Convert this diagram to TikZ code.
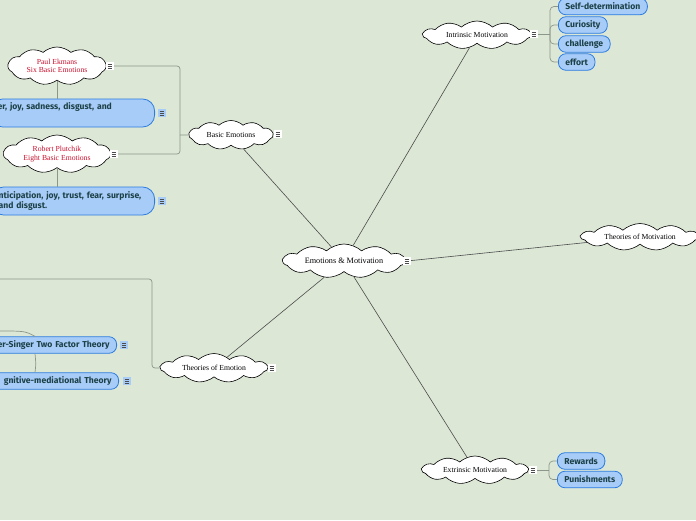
\documentclass[tikz,border=0pt]{standalone}
\usepackage{fontspec}
\setmainfont{Liberation Serif}
\newfontfamily\boxfont{Fira Sans}
\usetikzlibrary{shapes.symbols}
\definecolor{bg}{RGB}{220,231,214}
\definecolor{leaffill}{RGB}{168,204,248}
\definecolor{leafdraw}{RGB}{43,123,224}
\definecolor{leaftext}{RGB}{27,64,70}
\definecolor{redtext}{RGB}{200,16,46}
\definecolor{branchgray}{RGB}{140,150,138}

\begin{document}
\begin{tikzpicture}[x=1pt,y=-1pt,
  topic/.style={cloud, cloud puffs=11, cloud puff arc=85, cloud ignores aspect, draw=black, line width=0.6pt, fill=white,
    inner sep=0pt, align=center, font=\fontsize{7.7}{8.5}\selectfont},
  leaf/.style={rectangle, rounded corners=7.5pt, draw=leafdraw, line width=0.8pt, fill=leaffill, text=leaftext,
    inner xsep=7pt, inner ysep=0pt, minimum height=16.5pt, font=\boxfont\bfseries\fontsize{8.6}{10}\selectfont},
  note/.style={rectangle, fill=#1, minimum size=8pt, inner sep=0pt,
    path picture={\foreach \dy in {-2.2,0,2.2}
      \draw[black!70, line width=0.5pt] ([xshift=-2.3pt,yshift=\dy pt]path picture bounding box.center) -- ++(4.6pt,0);}},
  note/.default=white,
  main/.style={draw=black!70, line width=0.6pt},
  branch/.style={draw=branchgray, line width=0.7pt}]
\useasboundingbox (0,0) rectangle (696,520);
\clip (0,0) rectangle (696,520);
\fill[bg] (0,0) rectangle (696,520);

% clouds
\node[topic, minimum width=122, minimum height=34, font=\fontsize{8.2}{9}\selectfont] (em) at (344,261) {Emotions \& Motivation};
\node[topic, minimum width=108, minimum height=28] (in) at (477,35) {Intrinsic Motivation};
\node[topic, minimum width=118, minimum height=27] (tom) at (640,237) {Theories of Motivation};
\node[topic, minimum width=106, minimum height=28] (ex) at (475,470) {Extrinsic Motivation};
\node[topic, minimum width=107, minimum height=29] (toe) at (214,368) {Theories of Emotion};
\node[topic, minimum width=84, minimum height=29] (be) at (231,135) {Basic Emotions};
\node[topic, text=redtext, minimum width=98, minimum height=38] (pe) at (57,66) {Paul Ekmans\\Six Basic Emotions};
\node[topic, text=redtext, minimum width=107, minimum height=38] (rp) at (57,154) {Robert Plutchik\\Eight Basic Emotions};

% leaves
\node[leaf, anchor=west] (sd) at (558,6.5) {Self-determination};
\node[leaf, anchor=west] (cu) at (558,25) {Curiosity};
\node[leaf, anchor=west] (ch) at (558,44) {challenge};
\node[leaf, anchor=west] (ef) at (558,62) {effort};
\node[leaf, anchor=west] (rw) at (557,461) {Rewards};
\node[leaf, anchor=west] (pu) at (557,479.5) {Punishments};
\node[leaf, anchor=east, rounded corners=12pt, text width=150, align=left, minimum height=28] (b1) at (155,113) {er, joy, sadness, disgust, and\\\strut};
\node[leaf, anchor=east, rounded corners=12pt, text width=149, align=left, minimum height=28] (b2) at (155,201) {nticipation, joy, trust, fear, surprise,\\and disgust.};
\node[leaf, anchor=east, text width=120, align=right] (ss) at (117,345) {er-Singer Two Factor Theory};
\node[leaf, anchor=east, text width=120, align=right] (cm) at (119,381) {gnitive-mediational Theory};

% notes
\node[note] (em-n) at (407,261) {};
\node[note] (in-n) at (534,34) {};
\node[note] (ex-n) at (533,470) {};
\node[note] (be-n) at (278,134) {};
\node[note] (toe-n) at (272,368) {};
\node[note] (pe-n) at (110,66) {};
\node[note] (rp-n) at (114,154) {};
\node[note=leaffill] (b1-n) at (162,113) {};
\node[note=leaffill] (b2-n) at (162,201) {};
\node[note=leaffill] (ss-n) at (124,345) {};
\node[note=leaffill] (cm-n) at (127,381) {};

% main connectors
\draw[main] (em) -- (be);
\draw[main] (em) -- (in);
\draw[main] (em) -- (toe);
\draw[main] (em) -- (ex);
\draw[main] (em-n) -- (tom);

% branches
\coordinate (be-j) at (180,135);
\draw[branch] (be) -- (be-j);
\draw[branch, rounded corners=3pt] (pe-n) -| (be-j);
\draw[branch, rounded corners=3pt] (rp-n) -| (be-j);
\draw[branch] (pe.south) -- (pe.south |- b1.north);
\draw[branch] (rp.south) -- (rp.south |- b2.north);

\coordinate (toe-j) at (152,0);
\coordinate (toe-out) at (-2,279);
\draw[branch, rounded corners=3pt] (toe.west) -- (toe.west -| toe-j) |- (toe-out);
\coordinate (ss-j) at (35,0);
\coordinate (ss-in) at (-2,331);
\draw[branch] (ss-in) .. controls (25,331) .. (ss.north -| ss-j);
\draw[branch] (ss.south -| ss-j) .. controls (36,364) .. (cm.north -| ss-j);

\coordinate (in-j) at (550,34);
\draw[branch] (in-n) -- (in-j);
\foreach \leaf in {sd,cu,ch,ef}
  \draw[branch, rounded corners=4pt] (in-j) |- (\leaf);
\coordinate (ex-j) at (549,470);
\draw[branch] (ex-n) -- (ex-j);
\foreach \leaf in {rw,pu}
  \draw[branch, rounded corners=4pt] (ex-j) |- (\leaf);
\end{tikzpicture}
\end{document}
